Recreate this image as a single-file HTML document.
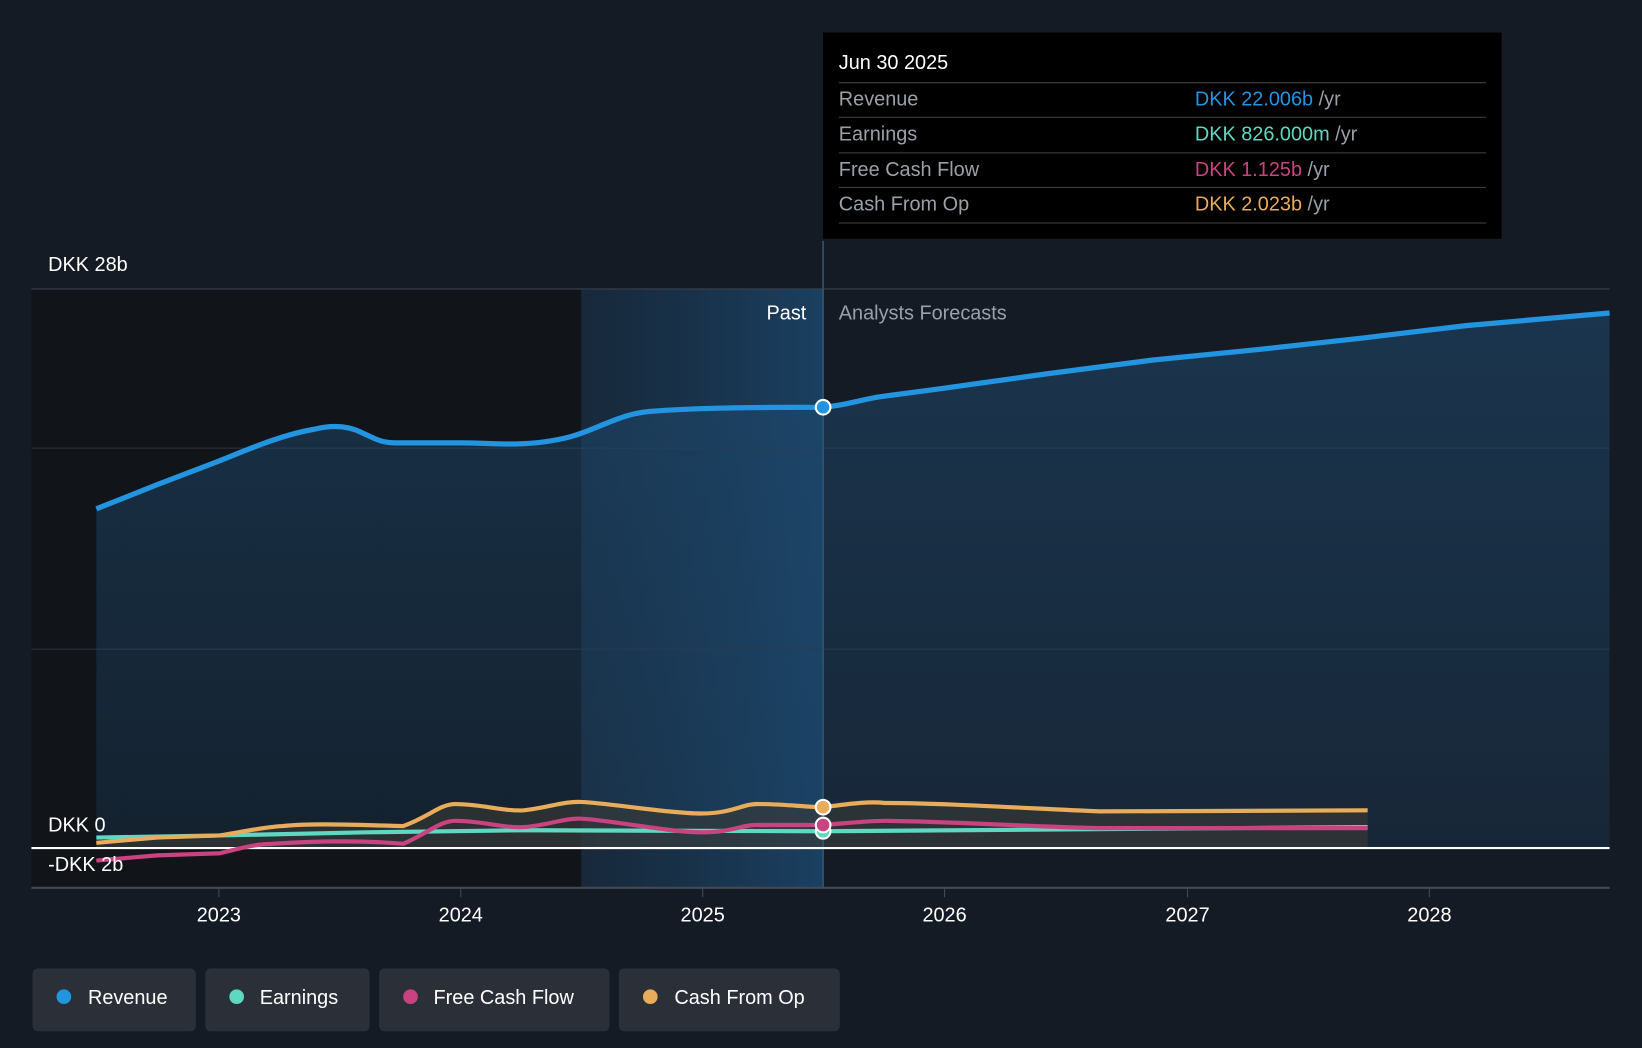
<!DOCTYPE html>
<html><head><meta charset="utf-8"><style>
html,body{margin:0;padding:0;background:#151b24;overflow:hidden}
svg{display:block;font-family:"Liberation Sans",sans-serif}
</style></head><body>
<svg width="1642" height="1048" viewBox="0 0 1568 1001" preserveAspectRatio="none">
<defs>
<linearGradient id="hl" x1="0" x2="1" y1="0" y2="0"><stop offset="0" stop-color="#1a3650" stop-opacity="0.5"/><stop offset="1" stop-color="#1b4468" stop-opacity="0.9"/></linearGradient>
<linearGradient id="rf" x1="0" x2="0" y1="0" y2="1"><stop offset="0" stop-color="#1e4a70" stop-opacity="0.55"/><stop offset="1" stop-color="#1e4a70" stop-opacity="0.25"/></linearGradient>
</defs>
<rect width="1568" height="1001" fill="#151b24"/>
<rect x="30" y="276" width="525" height="572" fill="#111419"/>
<rect x="555" y="276" width="231" height="572" fill="url(#hl)"/>
<line x1="30" y1="276" x2="1537" y2="276" stroke="#3a404a" stroke-width="1"/>
<line x1="30" y1="428" x2="1537" y2="428" stroke="#2c3440" stroke-width="1"/>
<line x1="30" y1="620" x2="1537" y2="620" stroke="#2c3440" stroke-width="1"/>
<path d="M92,486 L150,463 L210,440 C240,428 270,415 300,410 C320,405 335,408 345,413 C360,420 365,423 378,423 L440,423 C470,423 490,426 520,422 C540,419 550,416 560,412 C590,400 600,395 620,393 C660,390 700,389 786,389 C810,387 820,382 840,379 L900,371 L1000,357 L1100,344 L1200,334 L1300,323 L1400,311 L1537,299 L1537,810 L92,810 Z" fill="url(#rf)"/>
<path d="M92,805 L150,800 L210,798 C230,795 250,790 270,789 C300,786 340,788 385,789 C410,780 420,768 435,768 C460,768 480,775 500,774 C520,772 540,765 555,766 C580,767 640,777 670,777 C700,777 710,767 725,768 C750,768 770,771 786,771 C810,768 830,765 845,767 C900,767 980,772 1050,775 L1306,774 L1306,810 L92,810 Z" fill="#3a3a36" opacity="0.6"/>
<line x1="786" y1="230" x2="786" y2="848" stroke="#2e5878" stroke-width="1.5"/>
<line x1="30" y1="810" x2="1537" y2="810" stroke="#ffffff" stroke-width="2"/>
<line x1="30" y1="848" x2="1537" y2="848" stroke="#444a54" stroke-width="2"/>
<g stroke="#444a54" stroke-width="1">
<line x1="209" y1="848" x2="209" y2="857"/><line x1="440" y1="848" x2="440" y2="857"/><line x1="671" y1="848" x2="671" y2="857"/><line x1="902" y1="848" x2="902" y2="857"/><line x1="1134" y1="848" x2="1134" y2="857"/><line x1="1365" y1="848" x2="1365" y2="857"/>
</g>
<path d="M92,486 L150,463 L210,440 C240,428 270,415 300,410 C320,405 335,408 345,413 C360,420 365,423 378,423 L440,423 C470,423 490,426 520,422 C540,419 550,416 560,412 C590,400 600,395 620,393 C660,390 700,389 786,389 C810,387 820,382 840,379 L900,371 L1000,357 L1100,344 L1200,334 L1300,323 L1400,311 L1537,299" fill="none" stroke="#2394e0" stroke-width="5"/>
<path d="M92,800 L210,798 L350,795 L500,793 L786,794 L1306,790" fill="none" stroke="#5fd8c2" stroke-width="4"/>
<path d="M92,822 L150,817 L210,815 C230,810 245,806 260,806 C290,804 340,802 385,806 C410,795 420,784 435,784 C460,784 480,791 500,790 C520,789 540,781 555,782 C580,783 640,795 670,795 C700,795 710,787 725,788 C750,788 770,788 786,788 C810,786 830,784 845,784 C920,785 990,790 1050,791 L1306,791" fill="none" stroke="#c8437f" stroke-width="4"/>
<path d="M92,805 L150,800 L210,798 C230,795 250,790 270,789 C300,786 340,788 385,789 C410,780 420,768 435,768 C460,768 480,775 500,774 C520,772 540,765 555,766 C580,767 640,777 670,777 C700,777 710,767 725,768 C750,768 770,771 786,771 C810,768 830,765 845,767 C900,767 980,772 1050,775 L1306,774" fill="none" stroke="#e8ac5a" stroke-width="4"/>
<circle cx="786" cy="389" r="7" fill="#2394e0" stroke="#fff" stroke-width="2"/>
<circle cx="786" cy="794" r="7" fill="#5fd8c2" stroke="#fff" stroke-width="2"/>
<circle cx="786" cy="788" r="7" fill="#c8437f" stroke="#fff" stroke-width="2"/>
<circle cx="786" cy="771" r="7" fill="#e8ac5a" stroke="#fff" stroke-width="2"/>
<g font-size="19" fill="#ffffff">
<text x="46" y="259">DKK 28b</text>
<text x="46" y="794">DKK 0</text>
<text x="46" y="832">-DKK 2b</text>
<text x="770" y="305" text-anchor="end">Past</text>
<text x="801" y="305" fill="#9aa0a8">Analysts Forecasts</text>
<g text-anchor="middle"><text x="209" y="880">2023</text><text x="440" y="880">2024</text><text x="671" y="880">2025</text><text x="902" y="880">2026</text><text x="1134" y="880">2027</text><text x="1365" y="880">2028</text></g>
</g>
<rect x="786" y="31" width="648" height="197" fill="#000"/>
<g font-size="19">
<text x="801" y="66" fill="#fff">Jun 30 2025</text>
<line x1="801" y1="79" x2="1419" y2="79" stroke="#444"/>
<text x="801" y="101" fill="#9aa0a8">Revenue</text><text x="1141" y="101" fill="#2394e0">DKK 22.006b <tspan fill="#9aa0a8">/yr</tspan></text>
<line x1="801" y1="112" x2="1419" y2="112" stroke="#444"/>
<text x="801" y="134" fill="#9aa0a8">Earnings</text><text x="1141" y="134" fill="#5fd8c2">DKK 826.000m <tspan fill="#9aa0a8">/yr</tspan></text>
<line x1="801" y1="146" x2="1419" y2="146" stroke="#444"/>
<text x="801" y="168" fill="#9aa0a8">Free Cash Flow</text><text x="1141" y="168" fill="#c8437f">DKK 1.125b <tspan fill="#9aa0a8">/yr</tspan></text>
<line x1="801" y1="179" x2="1419" y2="179" stroke="#444"/>
<text x="801" y="201" fill="#9aa0a8">Cash From Op</text><text x="1141" y="201" fill="#e8ac5a">DKK 2.023b <tspan fill="#9aa0a8">/yr</tspan></text>
<line x1="801" y1="213" x2="1419" y2="213" stroke="#444"/>
</g>
<g font-size="19" fill="#fff">
<rect x="31" y="925" width="156" height="60" rx="5" fill="#2a2f38"/><circle cx="61" cy="952" r="7" fill="#2394e0"/><text x="84" y="959">Revenue</text>
<rect x="196" y="925" width="157" height="60" rx="5" fill="#2a2f38"/><circle cx="226" cy="952" r="7" fill="#5fd8c2"/><text x="248" y="959">Earnings</text>
<rect x="362" y="925" width="220" height="60" rx="5" fill="#2a2f38"/><circle cx="392" cy="952" r="7" fill="#c8437f"/><text x="414" y="959">Free Cash Flow</text>
<rect x="591" y="925" width="211" height="60" rx="5" fill="#2a2f38"/><circle cx="621" cy="952" r="7" fill="#e8ac5a"/><text x="644" y="959">Cash From Op</text>
</g>
</svg>
</body></html>
